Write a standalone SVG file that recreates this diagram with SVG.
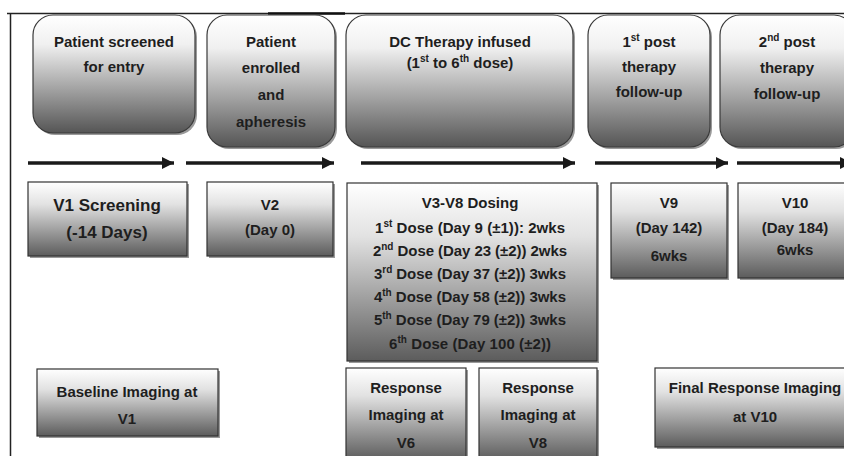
<svg xmlns="http://www.w3.org/2000/svg" width="844" height="456" viewBox="0 0 844 456">
<defs>
<linearGradient id="gTop" x1="0" y1="0" x2="0" y2="1">
<stop offset="0" stop-color="#ffffff"/>
<stop offset="0.25" stop-color="#f0f0f0"/>
<stop offset="0.6" stop-color="#a8a8a8"/>
<stop offset="1" stop-color="#555555"/>
</linearGradient>
<linearGradient id="gBox" x1="0" y1="0" x2="0" y2="1">
<stop offset="0" stop-color="#ffffff"/>
<stop offset="0.3" stop-color="#e2e2e2"/>
<stop offset="1" stop-color="#5c5c5c"/>
</linearGradient>
<marker id="ah" markerUnits="userSpaceOnUse" markerWidth="14" markerHeight="14" refX="13" refY="7" orient="auto">
<path d="M1,1 L13,7 L1,13 Z" fill="#1a1a1a"/>
</marker>
<style>
.rb{fill:url(#gTop);stroke:#3a3a3a;stroke-width:1.2}
.bx{fill:url(#gBox);stroke:#333;stroke-width:1.2}
.sh{fill:#9a9a9a}
text{font-family:"Liberation Sans",Arial,sans-serif;font-weight:bold;fill:#1e1e1e;text-anchor:middle;font-size:15px}
.big{font-size:17px}
.sup{font-size:10px}
.ar{stroke:#1a1a1a;stroke-width:3.5;fill:none;marker-end:url(#ah)}
.fr{stroke:#222;fill:none;stroke-width:1.5}
</style>
</defs>
<rect width="844" height="456" fill="#ffffff"/>
<g id="frame">
<path class="fr" d="M7,13.5 H844 M10.5,13 V456"/>
<path d="M268,13.5 H345" stroke="#111" stroke-width="2.5"/>
</g>

<g id="phase-screened">
<rect class="sh" x="35" y="17" width="162" height="118" rx="20"/>
<rect class="rb" x="33" y="15" width="162" height="118" rx="20"/>
<text x="114" y="47">Patient screened</text>
<text x="114" y="72">for entry</text>
</g>
<g id="phase-enrolled">
<rect class="sh" x="209" y="17" width="128" height="132" rx="20"/>
<rect class="rb" x="207" y="15" width="128" height="132" rx="20"/>
<text x="271" y="47">Patient</text>
<text x="271" y="73">enrolled</text>
<text x="271" y="100">and</text>
<text x="271" y="127">apheresis</text>
</g>
<g id="phase-dc">
<rect class="sh" x="348" y="17" width="227" height="132" rx="20"/>
<rect class="rb" x="346" y="15" width="227" height="132" rx="20"/>
<text x="460" y="47">DC Therapy infused</text>
<text x="460" y="68">(1<tspan class="sup" dy="-6">st</tspan><tspan dy="6"> to 6</tspan><tspan class="sup" dy="-6">th</tspan><tspan dy="6"> dose)</tspan></text>
</g>
<g id="phase-post1">
<rect class="sh" x="590" y="17" width="122" height="132" rx="20"/>
<rect class="rb" x="588" y="15" width="122" height="132" rx="20"/>
<text x="649" y="47">1<tspan class="sup" dy="-6">st</tspan><tspan dy="6"> post</tspan></text>
<text x="649" y="72">therapy</text>
<text x="649" y="97">follow-up</text>
</g>
<g id="phase-post2">
<rect class="sh" x="722" y="17" width="134" height="132" rx="20"/>
<rect class="rb" x="720" y="15" width="134" height="132" rx="20"/>
<text x="787" y="47">2<tspan class="sup" dy="-6">nd</tspan><tspan dy="6"> post</tspan></text>
<text x="787" y="73">therapy</text>
<text x="787" y="99">follow-up</text>
</g>

<g id="connectors">
<line class="ar" x1="28" y1="163" x2="174" y2="163"/>
<line class="ar" x1="186" y1="163" x2="334" y2="163"/>
<line class="ar" x1="361" y1="163" x2="575" y2="163"/>
<line class="ar" x1="595" y1="163" x2="728" y2="163"/>
<line class="ar" x1="737" y1="163" x2="852" y2="163"/>
</g>

<g id="v1">
<rect class="sh" x="30" y="184" width="159" height="74"/>
<rect class="bx" x="28" y="182" width="159" height="74"/>
<text class="big" x="107" y="211">V1 Screening</text>
<text class="big" x="107" y="238">(-14 Days)</text>
</g>
<g id="v2">
<rect class="sh" x="209" y="184" width="126" height="74"/>
<rect class="bx" x="207" y="182" width="126" height="74"/>
<text x="270" y="210">V2</text>
<text x="270" y="235">(Day 0)</text>
</g>
<g id="v3v8">
<rect class="sh" x="349" y="185" width="250" height="178"/>
<rect class="bx" x="347" y="183" width="250" height="178"/>
<text x="470" y="208">V3-V8 Dosing</text>
<text x="470" y="233" textLength="190" lengthAdjust="spacing">1<tspan class="sup" dy="-6">st</tspan><tspan dy="6"> Dose (Day 9 (±1)): 2wks</tspan></text>
<text x="470" y="256" textLength="194" lengthAdjust="spacing">2<tspan class="sup" dy="-6">nd</tspan><tspan dy="6"> Dose (Day 23 (±2)) 2wks</tspan></text>
<text x="470" y="279" textLength="192" lengthAdjust="spacing">3<tspan class="sup" dy="-6">rd</tspan><tspan dy="6"> Dose (Day 37 (±2)) 3wks</tspan></text>
<text x="470" y="302" textLength="192" lengthAdjust="spacing">4<tspan class="sup" dy="-6">th</tspan><tspan dy="6"> Dose (Day 58 (±2)) 3wks</tspan></text>
<text x="470" y="325" textLength="192" lengthAdjust="spacing">5<tspan class="sup" dy="-6">th</tspan><tspan dy="6"> Dose (Day 79 (±2)) 3wks</tspan></text>
<text x="470" y="349" textLength="162" lengthAdjust="spacing">6<tspan class="sup" dy="-6">th</tspan><tspan dy="6"> Dose (Day 100 (±2))</tspan></text>
</g>
<g id="v9">
<rect class="sh" x="613" y="185" width="116" height="95"/>
<rect class="bx" x="611" y="183" width="116" height="95"/>
<text x="669" y="208">V9</text>
<text x="669" y="233">(Day 142)</text>
<text x="669" y="261">6wks</text>
</g>
<g id="v10">
<rect class="sh" x="740" y="185" width="116" height="95"/>
<rect class="bx" x="738" y="183" width="116" height="95"/>
<text x="795" y="208">V10</text>
<text x="795" y="233">(Day 184)</text>
<text x="795" y="255">6wks</text>
</g>

<g id="img-baseline">
<rect class="sh" x="39" y="371" width="181" height="67"/>
<rect class="bx" x="37" y="369" width="181" height="67"/>
<text x="127" y="397">Baseline Imaging at</text>
<text x="127" y="424">V1</text>
</g>
<g id="img-v6">
<rect class="sh" x="348" y="370" width="120" height="92"/>
<rect class="bx" x="346" y="368" width="120" height="92"/>
<text x="406" y="393">Response</text>
<text x="406" y="420">Imaging at</text>
<text x="406" y="448">V6</text>
</g>
<g id="img-v8">
<rect class="sh" x="481" y="370" width="118" height="92"/>
<rect class="bx" x="479" y="368" width="118" height="92"/>
<text x="538" y="393">Response</text>
<text x="538" y="420">Imaging at</text>
<text x="538" y="448">V8</text>
</g>
<g id="img-final">
<rect class="sh" x="657" y="370" width="200" height="79"/>
<rect class="bx" x="655" y="368" width="200" height="79"/>
<text x="755" y="393">Final Response Imaging</text>
<text x="755" y="422">at V10</text>
</g>
</svg>
